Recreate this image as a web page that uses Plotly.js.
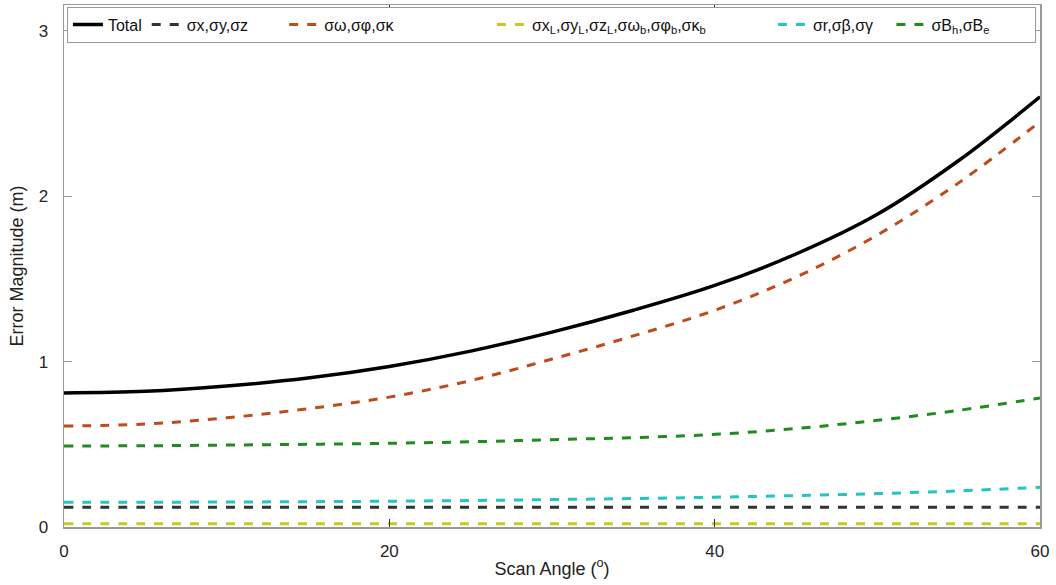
<!DOCTYPE html>
<html>
<head>
<meta charset="utf-8">
<script src="https://cdn.plot.ly/plotly-3.0.1.min.js"></script>
<style>html,body{margin:0;padding:0;background:#fff;}#chart{width:1056px;height:585px;}</style>
</head>
<body>
<div id="chart"></div>
<script>
const scanAngle = [0, 5, 10, 15, 20, 25, 30, 35, 40, 45, 50, 55, 60];
const total      = [0.81, 0.82, 0.852, 0.90, 0.97, 1.063, 1.178, 1.31, 1.46, 1.65, 1.89, 2.215, 2.60];
const sigPos     = [0.12, 0.12, 0.12, 0.12, 0.12, 0.12, 0.12, 0.12, 0.12, 0.12, 0.12, 0.12, 0.12];
const sigAtt     = [0.61, 0.622, 0.66, 0.715, 0.785, 0.885, 1.015, 1.155, 1.31, 1.51, 1.765, 2.08, 2.45];
const sigLever   = [0.02, 0.02, 0.02, 0.02, 0.02, 0.02, 0.02, 0.02, 0.02, 0.02, 0.02, 0.02, 0.02];
const sigRange   = [0.15, 0.15, 0.151, 0.153, 0.156, 0.16, 0.166, 0.172, 0.18, 0.19, 0.202, 0.218, 0.24];
const sigBeam    = [0.49, 0.491, 0.495, 0.50, 0.506, 0.515, 0.528, 0.54, 0.56, 0.595, 0.645, 0.705, 0.78];

const seriesNames = [
  "Total",
  "σx,σy,σz",
  "σω,σφ,σκ",
  "σx<sub>L</sub>,σy<sub>L</sub>,σz<sub>L</sub>,σω<sub>b</sub>,σφ<sub>b</sub>,σκ<sub>b</sub>",
  "σr,σβ,σγ",
  "σB<sub>h</sub>,σB<sub>e</sub>"
];
// trailing non-breaking spaces widen the legend entries like the reference
const legendPad = [0, 7, 21, 14, 3, 9];
const seriesData = [total, sigPos, sigAtt, sigLever, sigRange, sigBeam];
const colors = ["#000000", "#333333", "#bf4a1c", "#c8c820", "#22c4c4", "#1e8c1e"];
const dashes = ["solid", "dash", "dash", "dash", "dash", "dash"];
const widths = [3.5, 3, 3, 3, 3, 3];

const traces = seriesData.map((ys, i) => ({
  x: scanAngle, y: ys, type: "scatter", mode: "lines",
  name: seriesNames[i] + "\u00A0".repeat(legendPad[i]),
  line: {color: colors[i], dash: dashes[i], width: widths[i], shape: "spline", smoothing: 1}
}));

const layout = {
  width: 1056, height: 585,
  margin: {l: 64, r: 16, t: 5, b: 58},
  paper_bgcolor: "#fff", plot_bgcolor: "#fff",
  font: {family: "Liberation Sans, Arial, sans-serif", size: 17, color: "#262626"},
  showlegend: true,
  legend: {
    orientation: "h", x: 0.003, y: 0.997, xanchor: "left", yanchor: "top",
    bgcolor: "#fff", bordercolor: "#999", borderwidth: 1,
    font: {family: "Liberation Sans, Arial, sans-serif", size: 16, color: "#111"},
    itemwidth: 30, tracegroupgap: 0
  },
  xaxis: {
    range: [0, 60], tickvals: [0, 20, 40, 60], ticktext: ["0", "20", "40", "60"],
    ticks: "inside", ticklen: 8, tickcolor: "#333", mirror: "ticks",
    showline: true, linecolor: "#999", linewidth: 1.5, showgrid: false, zeroline: false,
    ticklabelstandoff: 8,
    title: {text: "Scan Angle (<sup>o</sup>)", font: {size: 18, color: "#222"}, standoff: 2},
    tickfont: {size: 17, color: "#262626"}
  },
  yaxis: {
    range: [0, 3.155], tickvals: [0, 1, 2, 3], ticktext: ["0", "1", "2", "3"],
    ticks: "inside", ticklen: 8, tickcolor: "#999", mirror: "ticks",
    showline: true, linecolor: "#999", linewidth: 1.5, showgrid: false, zeroline: false,
    ticklabelstandoff: 11,
    title: {text: "Error Magnitude (m)", font: {size: 18, color: "#222"}, standoff: 10},
    tickfont: {size: 17, color: "#262626"}
  }
};

Plotly.newPlot("chart", traces, layout, {displayModeBar: false, staticPlot: true});
</script>
</body>
</html>
